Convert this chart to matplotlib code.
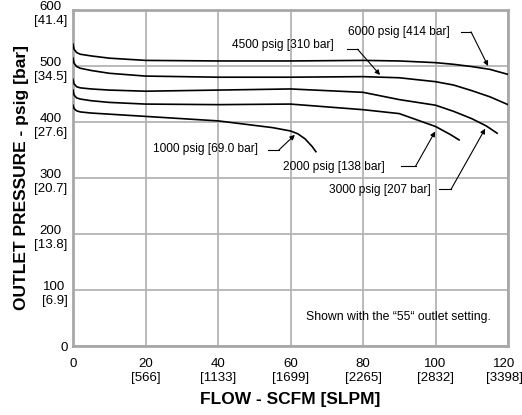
import matplotlib.pyplot as plt
from matplotlib.transforms import ScaledTranslation

plt.rcParams['font.family'] = ['Liberation Sans', 'DejaVu Sans']

# flow in SCFM, outlet pressure in psig
x_6000 = [0, 0.3, 1, 2, 5, 10, 20, 40, 60, 80, 90, 100, 105, 110, 115, 120]
y_6000 = [539, 530, 524, 521, 518, 514, 510, 509, 509, 510, 509, 506, 503, 499, 494, 485]
x_4500 = [0, 0.3, 1, 2, 5, 10, 20, 40, 60, 80, 90, 100, 105, 110, 115, 120]
y_4500 = [514, 505, 499, 496, 492, 487, 482, 480, 480, 481, 479, 472, 466, 456, 445, 431]
x_3000 = [0, 0.3, 1, 2, 5, 10, 20, 40, 60, 80, 90, 100, 105, 110, 114, 117]
y_3000 = [476, 468, 463, 461, 459, 457, 455, 457, 459, 453, 440, 430, 419, 406, 393, 380]
x_2000 = [0, 0.3, 1, 2, 5, 10, 20, 40, 60, 80, 90, 100, 104, 106.5]
y_2000 = [457, 448, 443, 441, 438, 435, 432, 431, 432, 422, 415, 392, 378, 368]
x_1000 = [0, 0.3, 1, 2, 5, 10, 20, 30, 40, 50, 55, 60, 62, 64, 66, 67]
y_1000 = [430, 424, 420, 418, 416, 414, 410, 406, 402, 394, 390, 384, 379, 370, 356, 347]

xticks = [0, 20, 40, 60, 80, 100, 120]
xlabels = ['0', '20\n[566]', '40\n[1133]', '60\n[1699]', '80\n[2265]', '100\n[2832]', '120\n[3398]']
yticks = [0, 100, 200, 300, 400, 500, 600]
ylabels = ['0', '100\n[6.9]', '200\n[13.8]', '300\n[20.7]', '400\n[27.6]', '500\n[34.5]', '600\n[41.4]']

# label text (center), ends of the horizontal leader, arrow tip
labels = ['6000 psig [414 bar]', '4500 psig [310 bar]', '1000 psig [69.0 bar]',
          '2000 psig [138 bar]', '3000 psig [207 bar]']
label_xy = [(90, 561), (57.8, 537), (36.5, 352), (72, 320), (84.6, 279)]
leader_start = [(107, 561), (75.5, 530), (53.8, 350), (90.5, 321), (101, 280)]
leader_end = [(109.8, 561), (78.5, 530), (56.8, 350), (94.5, 321), (104.3, 280)]
arrow_tip = [(114.5, 500), (84.7, 484), (61.2, 377), (99.9, 383), (113.7, 388)]

fig = plt.figure(figsize=(5.22, 4.15), dpi=100)
ax = fig.add_axes([73 / 522, 69 / 415, 435 / 522, 336 / 415])

for xs, ys in [(x_6000, y_6000), (x_4500, y_4500), (x_3000, y_3000),
               (x_2000, y_2000), (x_1000, y_1000)]:
    ax.plot(xs, ys, color='black', lw=1.2, zorder=3)

for txt, (tx, ty), s, e, tip in zip(labels, label_xy, leader_start, leader_end, arrow_tip):
    ax.text(tx, ty, txt, ha='center', va='center', fontsize=8.6)
    ax.plot([s[0], e[0]], [s[1], e[1]], color='black', lw=0.8)
    ax.annotate('', xy=tip, xytext=e,
                arrowprops=dict(arrowstyle='-|>', color='black', lw=0.8,
                                mutation_scale=7, shrinkA=0, shrinkB=0))

ax.text(89.7, 52, 'Shown with the \u201c55\u201c outlet setting.', ha='center', va='center', fontsize=8.8)

ax.set_xlim(0, 120)
ax.set_ylim(0, 600)
ax.set_xticks(xticks)
ax.set_xticklabels(xlabels, fontsize=9.5)
ax.set_yticks(yticks)
ax.set_yticklabels(ylabels, fontsize=9.5, multialignment='center')
ax.tick_params(axis='x', length=0, pad=8.5)
ax.tick_params(axis='y', length=0, pad=4)

# put the first line of each y label on its tick
shift = ScaledTranslation(0, 6.5 / 72, fig.dpi_scale_trans)
for lbl in ax.get_yticklabels()[1:]:
    lbl.set_va('top')
    lbl.set_transform(lbl.get_transform() + shift)

# keep the last x label inside the picture
last = ax.get_xticklabels()[-1]
last.set_transform(last.get_transform() + ScaledTranslation(-3.5 / 100, 0, fig.dpi_scale_trans))

ax.grid(True, color='#b4b4b4', lw=1.3)
for sp in ax.spines.values():
    sp.set_color('#a8a8a8')
    sp.set_linewidth(2)

ax.set_xlabel('FLOW - SCFM [SLPM]', fontsize=12.5, fontweight='bold', labelpad=6)
ax.set_ylabel('OUTLET PRESSURE - psig [bar]', fontsize=12.5, fontweight='bold', labelpad=4)

plt.savefig('out.png', dpi=100)
